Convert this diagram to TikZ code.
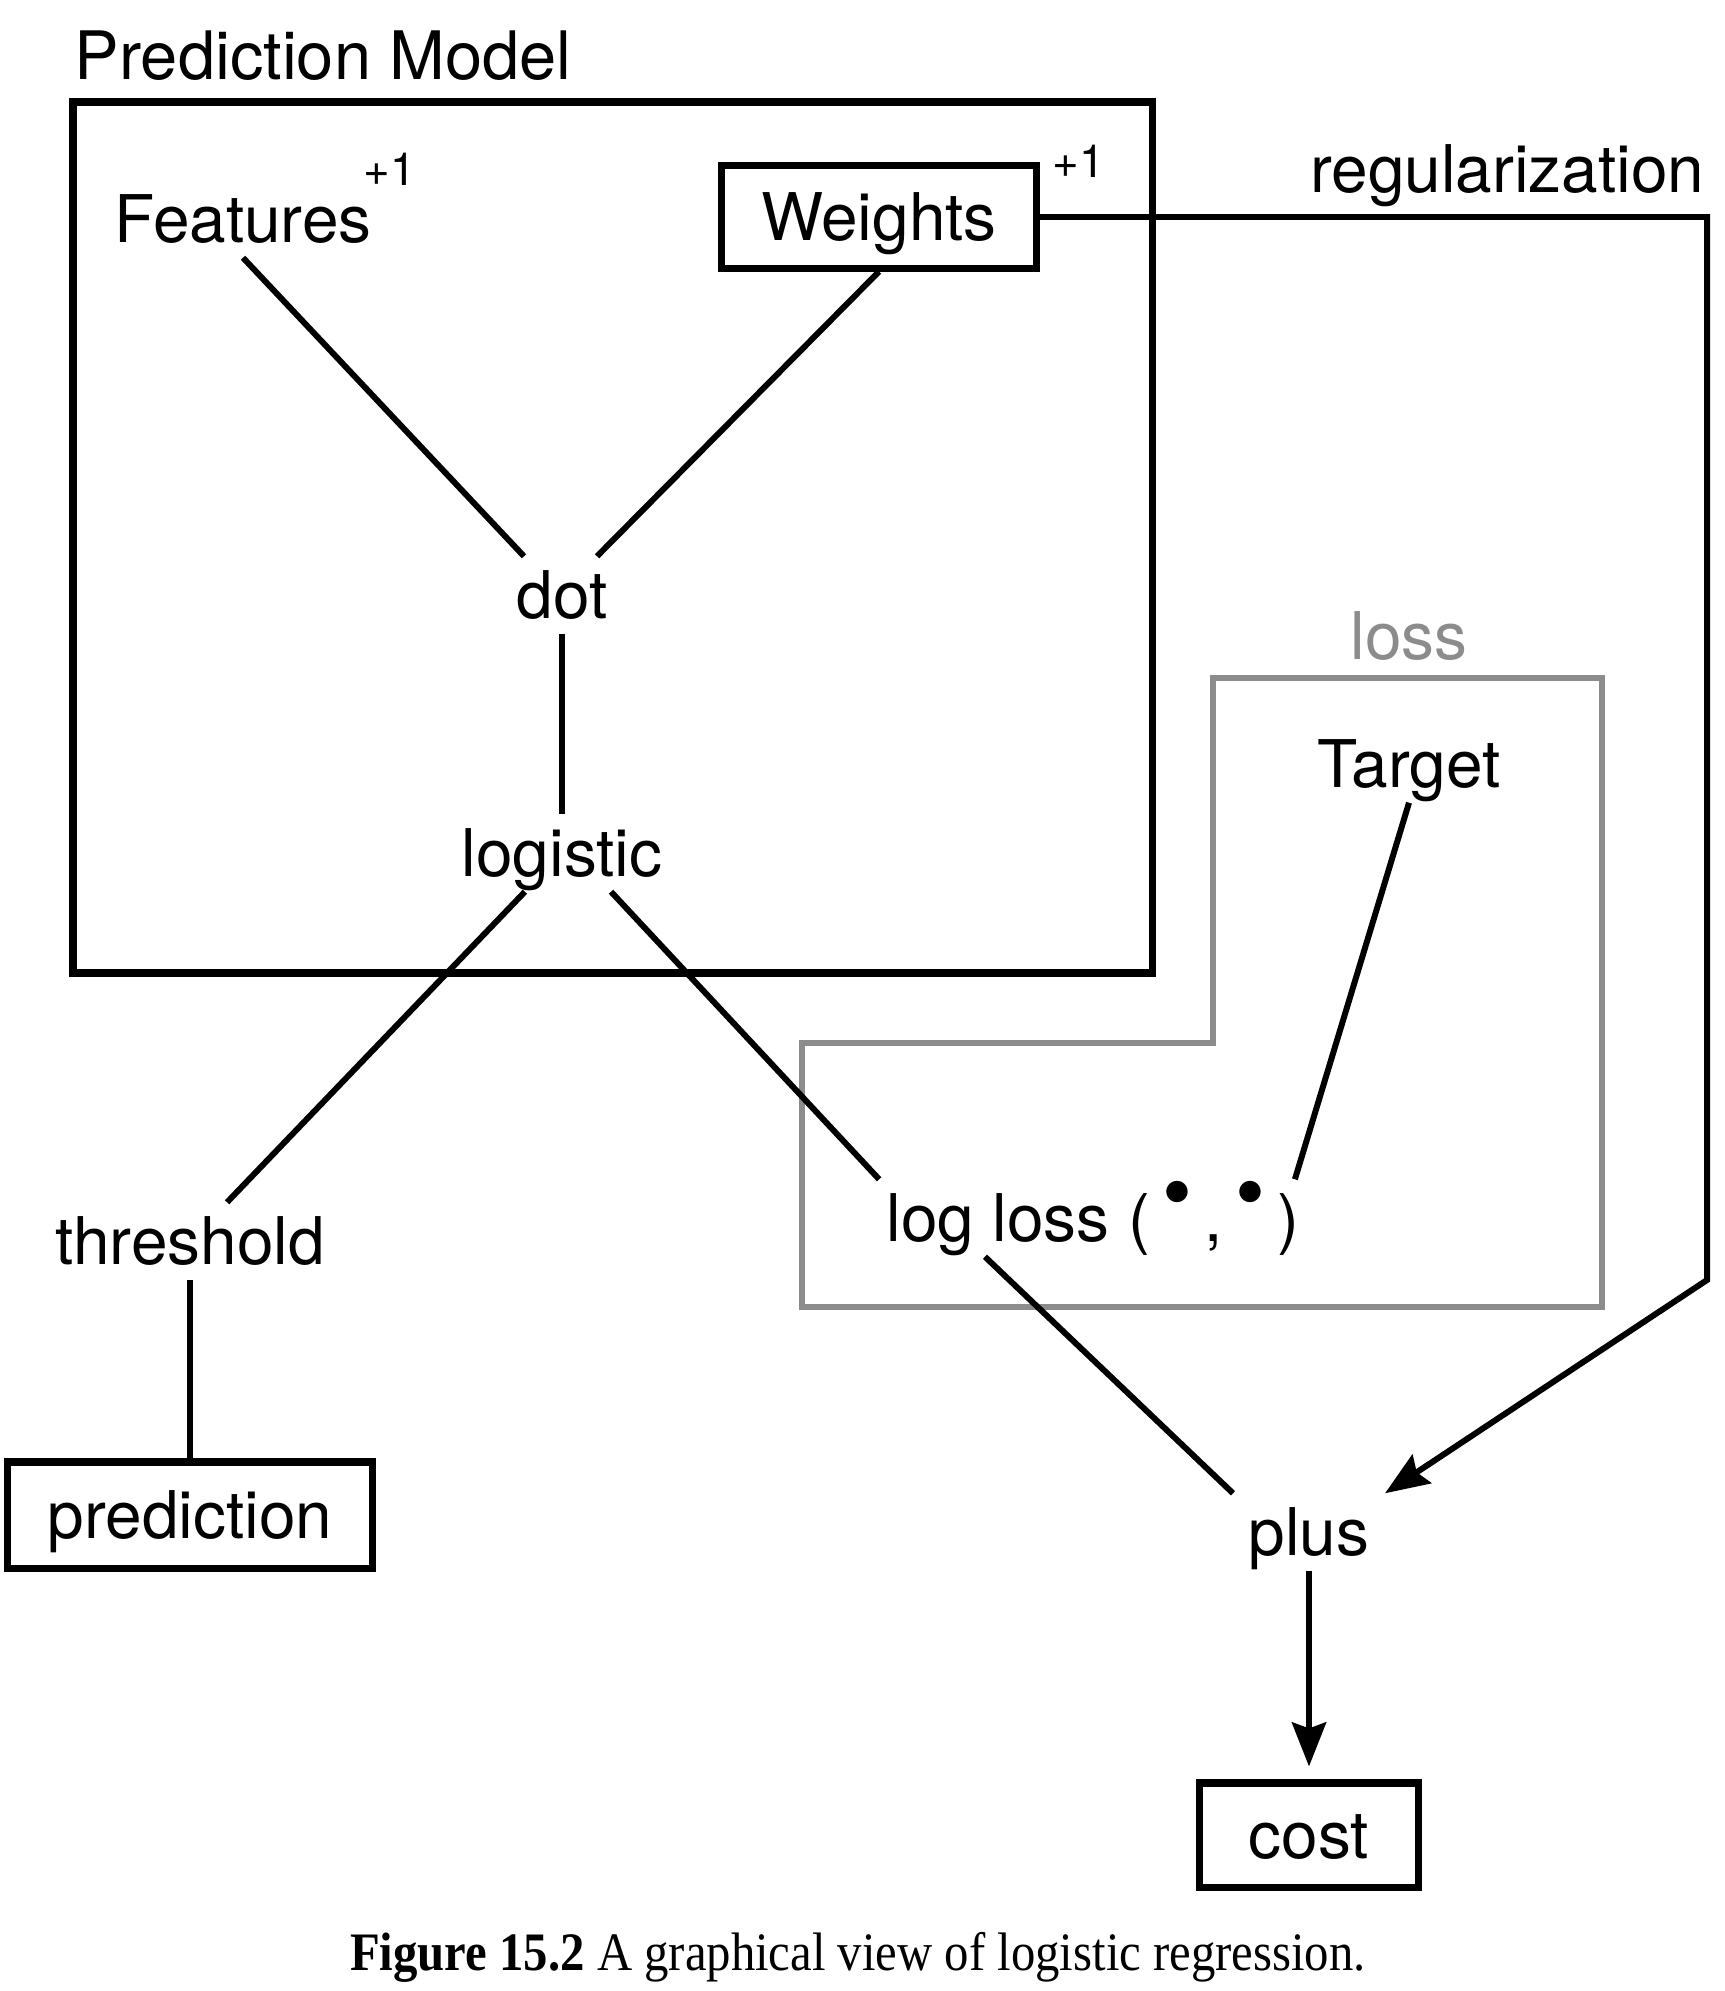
\documentclass[tikz,border=0pt]{standalone}
\usepackage{fontspec}
\setmainfont{TeX Gyre Heros}
\newfontfamily\capfont{Liberation Serif}
\usetikzlibrary{arrows.meta,positioning}

\tikzset{
	>={Stealth[length=0.44cm,width=0.34cm,inset=0.06cm]},
	lbl/.style = {
			font        = \fontsize{18.7}{21}\selectfont,
			inner sep   = 0.15cm,
			text height = 0.46cm,
			text depth  = 0cm,
		},
	small/.style = {
			font      = \fontsize{13}{15}\selectfont,
			inner sep = 0pt,
		},
	box/.style = {
			lbl,
			draw,
			line width = 2pt,
			inner sep  = 0pt,
		},
	link/.style = {line width=1.7pt},
	lossline/.style = {line width=1.9pt, draw=black!45},
}
\newcommand{\argdot}{\raisebox{0.3em}{\scalebox{1.3}{•}}}

\begin{document}
\begin{tikzpicture}[x=0.01cm,y=-0.01cm]
		\useasboundingbox (0,0) rectangle (1725,1991);

		% prediction model frame
		\node[lbl, font=\fontsize{19}{21}\selectfont, inner sep=0pt, anchor=west] at (74,56) (pm) {Prediction Model};
		\draw[line width=2pt] (73,102) rectangle (1152,973);

		% loss frame
		\node[lbl, text=black!45] at (1409,636) (losslbl) {loss};
		\draw[lossline] (1213,678) -- (1602,678) -- (1602,1307) -- (802,1307) -- (802,1043) -- (1213,1043) -- cycle;

		\node[lbl] at (243,219) (feat) {Features};
		\node[small] at (390,169) (featone) {+1};
		\node[box, minimum width=3.14cm, minimum height=1.02cm] at (879,217) (wts) {Weights};
		\node[small] at (1079,161) (wtsone) {+1};
		\node[lbl, inner sep=0pt, anchor=east] at (1705,169) (reg) {regularization};

		\node[lbl] at (562,595) (dot) {dot};
		\node[lbl] at (562,853) (logi) {logistic};
		\node[lbl] at (190,1241) (thr) {threshold};
		\node[box, minimum width=3.65cm, minimum height=1.06cm] at (190,1515) (pred) {prediction};

		\node[lbl] at (1409,764) (target) {Target};
		\node[lbl] at (1093,1218) (ll) {log loss (\hspace{3.5pt}\argdot\hspace{3.5pt},\hspace{3.5pt}\argdot\hspace{3.5pt})};
		\node[lbl] at (1309,1532) (plus) {plus};
		\node[box, minimum width=2.18cm, minimum height=1.04cm] at (1309,1835) (cost) {cost};

		\coordinate (bend) at (1707,1280);

		\draw[link] (feat.south) -- ([xshift=-0.38cm]dot.north);
		\draw[link] (wts.south) -- ([xshift=0.35cm]dot.north);
		\draw[link] (dot) -- (logi);
		\draw[link] (logi) -- (thr);
		\draw[link] (thr) -- (pred);
		\draw[link] ([xshift=0.49cm]logi.south) -- ([xshift=0.08cm]ll.north west);
		\draw[link] (target.south) -- ([xshift=-0.2cm]ll.north east);
		\draw[link] ([xshift=-1.08cm]ll.south) -- (plus.north west);
		\draw[link, ->] (wts.east) -| (bend) -- (plus.north east);
		\draw[link, ->, shorten >=0.13cm] (plus) -- (cost);

		\node[font=\capfont\fontsize{15.4}{17}\selectfont, xscale=0.9] at (858,1957) (caption) {\textbf{Figure 15.2} A graphical view of logistic regression.};
	\end{tikzpicture}
\end{document}
